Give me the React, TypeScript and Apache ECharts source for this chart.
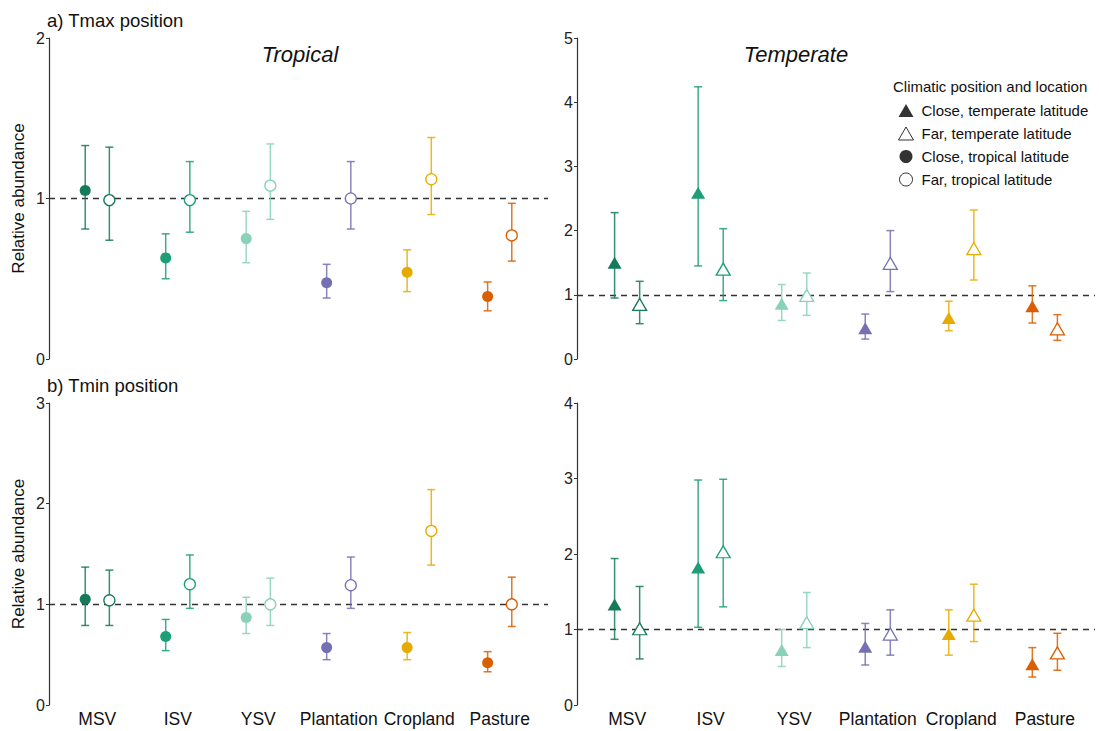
import React, { useEffect, useRef } from "react";
import * as echarts from "echarts";

const categories = ["MSV", "ISV", "YSV", "Plantation", "Cropland", "Pasture"];
const catColors = ["#157a5a", "#1d9e78", "#8ad1b9", "#7570b3", "#e6ab02", "#d95f02"];

// a) Tmax position, Tropical
const tmaxTropCloseMean = [1.05, 0.63, 0.75, 0.475, 0.54, 0.39];
const tmaxTropCloseLow = [0.81, 0.5, 0.6, 0.38, 0.42, 0.3];
const tmaxTropCloseHigh = [1.33, 0.78, 0.92, 0.59, 0.68, 0.48];
const tmaxTropFarMean = [0.99, 0.99, 1.08, 1.0, 1.12, 0.77];
const tmaxTropFarLow = [0.74, 0.79, 0.87, 0.81, 0.9, 0.61];
const tmaxTropFarHigh = [1.32, 1.23, 1.34, 1.23, 1.38, 0.97];

// a) Tmax position, Temperate
const tmaxTempCloseMean = [1.5, 2.59, 0.86, 0.48, 0.64, 0.82];
const tmaxTempCloseLow = [0.95, 1.45, 0.6, 0.31, 0.44, 0.56];
const tmaxTempCloseHigh = [2.28, 4.24, 1.16, 0.7, 0.9, 1.14];
const tmaxTempFarMean = [0.85, 1.4, 0.99, 1.49, 1.72, 0.47];
const tmaxTempFarLow = [0.55, 0.91, 0.68, 1.05, 1.23, 0.29];
const tmaxTempFarHigh = [1.21, 2.03, 1.34, 2.0, 2.32, 0.69];

// b) Tmin position, Tropical
const tminTropCloseMean = [1.05, 0.68, 0.87, 0.57, 0.57, 0.42];
const tminTropCloseLow = [0.79, 0.54, 0.71, 0.45, 0.45, 0.33];
const tminTropCloseHigh = [1.37, 0.85, 1.07, 0.71, 0.72, 0.53];
const tminTropFarMean = [1.04, 1.2, 1.0, 1.19, 1.73, 1.0];
const tminTropFarLow = [0.79, 0.96, 0.79, 0.96, 1.39, 0.78];
const tminTropFarHigh = [1.34, 1.49, 1.26, 1.47, 2.14, 1.27];

// b) Tmin position, Temperate
const tminTempCloseMean = [1.33, 1.82, 0.73, 0.77, 0.94, 0.54];
const tminTempCloseLow = [0.87, 1.03, 0.51, 0.53, 0.66, 0.37];
const tminTempCloseHigh = [1.94, 2.98, 1.0, 1.08, 1.26, 0.76];
const tminTempFarMean = [1.01, 2.03, 1.09, 0.94, 1.19, 0.69];
const tminTempFarLow = [0.61, 1.3, 0.76, 0.66, 0.84, 0.46];
const tminTempFarHigh = [1.57, 2.99, 1.49, 1.26, 1.6, 0.95];

const yMaxes = [2, 5, 3, 4];
const legendNames = [
  "Close, temperate latitude",
  "Far, temperate latitude",
  "Close, tropical latitude",
  "Far, tropical latitude",
];

const FONT = "'Liberation Sans', Arial, Helvetica, sans-serif";
const DODGE = 0.15;

function errorSeries(gi: number, low: number[], high: number[], offset: number) {
  return {
    type: "custom",
    xAxisIndex: gi,
    yAxisIndex: gi,
    silent: true,
    z: 2,
    encode: { x: 0, y: [1, 2] },
    data: categories.map((_, i) => [i + 1 + offset, low[i], high[i], i]),
    renderItem: (params: any, api: any) => {
      const x = api.value(0);
      const p1 = api.coord([x, api.value(1)]);
      const p2 = api.coord([x, api.value(2)]);
      const c = catColors[api.value(3)];
      const w = 4;
      const style = { stroke: c, lineWidth: 1.5, opacity: 0.85 };
      return {
        type: "group",
        children: [
          { type: "line", shape: { x1: p1[0], y1: p1[1], x2: p2[0], y2: p2[1] }, style },
          { type: "line", shape: { x1: p1[0] - w, y1: p1[1], x2: p1[0] + w, y2: p1[1] }, style },
          { type: "line", shape: { x1: p2[0] - w, y1: p2[1], x2: p2[0] + w, y2: p2[1] }, style },
        ],
      };
    },
  };
}

function panelSeries(
  gi: number,
  closeMean: number[],
  closeLow: number[],
  closeHigh: number[],
  farMean: number[],
  farLow: number[],
  farHigh: number[],
  triangle: boolean
) {
  const symbol = triangle ? "triangle" : "circle";
  const symbolSize = triangle ? [14, 12] : 11;
  return [
    errorSeries(gi, closeLow, closeHigh, -DODGE),
    errorSeries(gi, farLow, farHigh, DODGE),
    {
      type: "scatter",
      xAxisIndex: gi,
      yAxisIndex: gi,
      symbol,
      symbolSize,
      z: 4,
      silent: true,
      data: categories.map((_, i) => ({
        value: [i + 1 - DODGE, closeMean[i]],
        itemStyle: { color: catColors[i], opacity: 1 },
      })),
      markLine: {
        silent: true,
        symbol: "none",
        label: { show: false },
        lineStyle: { type: [6, 5], color: "#333", width: 1.3 },
        data: [{ yAxis: 1 }],
        z: 1,
      },
    },
    {
      type: "scatter",
      xAxisIndex: gi,
      yAxisIndex: gi,
      symbol,
      symbolSize,
      z: 4,
      silent: true,
      data: categories.map((_, i) => ({
        value: [i + 1 + DODGE, farMean[i]],
        itemStyle: { color: "#ffffff", borderColor: catColors[i], borderWidth: 1.3, opacity: 1 },
      })),
    },
  ];
}

export default function App() {
  const ref = useRef<HTMLDivElement>(null);

  useEffect(() => {
    document.body.style.margin = "0";
    if (!ref.current) return;
    const chart = echarts.init(ref.current, undefined, { renderer: "svg" });

    const grids = [
      { left: 49, top: 38, width: 499, height: 321 },
      { left: 577, top: 38, width: 518, height: 321 },
      { left: 49, top: 403, width: 499, height: 302 },
      { left: 577, top: 403, width: 518, height: 302 },
    ];

    const xAxes = grids.map((_, gi) => ({
      type: "value",
      gridIndex: gi,
      min: 0.4,
      max: 6.6,
      axisLine: { show: false },
      axisTick: { show: false },
      splitLine: { show: false },
      axisLabel:
        gi >= 2
          ? {
              show: true,
              customValues: [1, 2, 3, 4, 5, 6],
              formatter: (v: number) => categories[Math.round(v) - 1] || "",
              fontSize: 17.5,
              color: "#111",
              fontFamily: FONT,
              margin: 5,
            }
          : { show: false },
    }));

    const yAxes = grids.map((_, gi) => ({
      type: "value",
      gridIndex: gi,
      min: 0,
      max: yMaxes[gi],
      interval: 1,
      axisLine: { show: true, lineStyle: { color: "#333", width: 1.2 } },
      axisTick: { show: true, length: 3, lineStyle: { color: "#333", width: 1 } },
      splitLine: { show: false },
      axisLabel: { fontSize: 16, color: "#222", margin: 4, fontFamily: FONT },
      name: gi % 2 === 0 ? "Relative abundance" : "",
      nameLocation: "middle",
      nameRotate: 90,
      nameGap: 22,
      nameTextStyle: { fontSize: 17, color: "#111", fontFamily: FONT },
    }));

    const legendSeries = legendNames.map((name, k) => ({
      type: "scatter",
      name,
      xAxisIndex: 0,
      yAxisIndex: 0,
      symbol: k < 2 ? "triangle" : "circle",
      itemStyle:
        k % 2 === 0
          ? { color: "#000" }
          : { color: "#fff", borderColor: "#000", borderWidth: 1 },
      data: [],
    }));

    const option = {
      animation: false,
      backgroundColor: "#ffffff",
      grid: grids,
      xAxis: xAxes,
      yAxis: yAxes,
      legend: {
        orient: "vertical",
        left: 898,
        top: 103,
        padding: 0,
        itemWidth: 15,
        itemHeight: 13,
        itemGap: 8,
        selectedMode: false,
        textStyle: { fontSize: 15, color: "#111", fontFamily: FONT, padding: [0, 0, 0, 3] },
        data: legendNames.map((name, k) => ({
          name,
          icon: k < 2 ? "triangle" : "circle",
          itemStyle:
            k % 2 === 0
              ? { color: "#000" }
              : { color: "#fff", borderColor: "#000", borderWidth: 1 },
        })),
      },
      graphic: [
        {
          type: "text",
          x: 47,
          y: 20,
          style: { text: "a) Tmax position", fontSize: 18.5, fill: "#111", fontFamily: FONT, verticalAlign: "middle" },
        },
        {
          type: "text",
          x: 47,
          y: 385,
          style: { text: "b) Tmin position", fontSize: 18.5, fill: "#111", fontFamily: FONT, verticalAlign: "middle" },
        },
        {
          type: "text",
          x: 300,
          y: 54,
          style: { text: "Tropical", fontSize: 22, fontStyle: "italic", fill: "#111", fontFamily: FONT, align: "center", verticalAlign: "middle" },
        },
        {
          type: "text",
          x: 796,
          y: 54,
          style: { text: "Temperate", fontSize: 22, fontStyle: "italic", fill: "#111", fontFamily: FONT, align: "center", verticalAlign: "middle" },
        },
        {
          type: "text",
          x: 893,
          y: 86,
          style: { text: "Climatic position and location", fontSize: 15, fill: "#111", fontFamily: FONT, verticalAlign: "middle" },
        },
      ],
      series: [
        ...panelSeries(0, tmaxTropCloseMean, tmaxTropCloseLow, tmaxTropCloseHigh, tmaxTropFarMean, tmaxTropFarLow, tmaxTropFarHigh, false),
        ...panelSeries(1, tmaxTempCloseMean, tmaxTempCloseLow, tmaxTempCloseHigh, tmaxTempFarMean, tmaxTempFarLow, tmaxTempFarHigh, true),
        ...panelSeries(2, tminTropCloseMean, tminTropCloseLow, tminTropCloseHigh, tminTropFarMean, tminTropFarLow, tminTropFarHigh, false),
        ...panelSeries(3, tminTempCloseMean, tminTempCloseLow, tminTempCloseHigh, tminTempFarMean, tminTempFarLow, tminTempFarHigh, true),
        ...legendSeries,
      ],
    };

    chart.setOption(option as any);
    return () => chart.dispose();
  }, []);

  return <div ref={ref} style={{ width: 1099, height: 731 }} />;
}
